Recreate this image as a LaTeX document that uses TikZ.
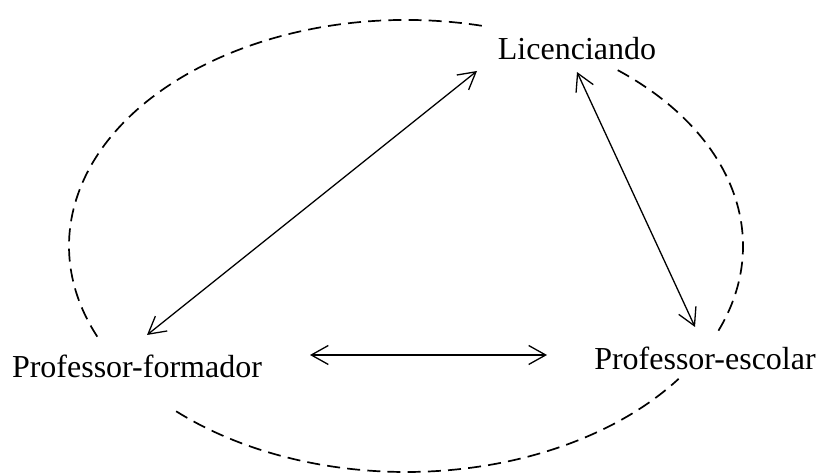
\documentclass[tikz,border=0pt]{standalone}
\usepackage{fontspec}
\setmainfont{Liberation Serif}
\usetikzlibrary{arrows.meta}
\tikzset{
  lbl/.style={anchor=base,inner sep=0pt,font=\fontsize{16}{19}\selectfont},
  rel/.style={line width=0.65pt,{Straight Barb[length=8.5pt,width=9.5pt,line width=0.65pt]}-{Straight Barb[length=8.5pt,width=9.5pt,line width=0.65pt]}},
  ring/.style={line width=0.85pt,dash pattern=on 6.5pt off 3.6pt}
}
\begin{document}
\begin{tikzpicture}[x=0.5pt,y=-0.5pt]
\useasboundingbox (0,0) rectangle (820,474);
\node[lbl] (lic) at (577,60) {Licenciando};
\node[lbl] (form) at (137,378) {Professor-formador};
\node[lbl] (esc) at (705,370) {Professor-escolar};
\coordinate (c) at (406,246);
\coordinate (lf) at (477,71);
\coordinate (fl) at (147,335);
\coordinate (le) at (577,72);
\coordinate (el) at (695,327);
\coordinate (fe) at (310,355);
\coordinate (ef) at (547,355);
\draw[rel] (fl) -- (lf);
\draw[rel] (le) -- (el);
\draw[rel] (fe) -- (ef);
\draw[ring] (c) ++(77:168.5pt and 113pt) arc[start angle=77,end angle=204,x radius=168.5pt,y radius=113pt];
\draw[ring] (c) ++(227:168.5pt and 113pt) arc[start angle=227,end angle=324,x radius=168.5pt,y radius=113pt];
\draw[ring] (c) ++(-22:168.5pt and 113pt) arc[start angle=-22,end angle=52,x radius=168.5pt,y radius=113pt];
\end{tikzpicture}
\end{document}
